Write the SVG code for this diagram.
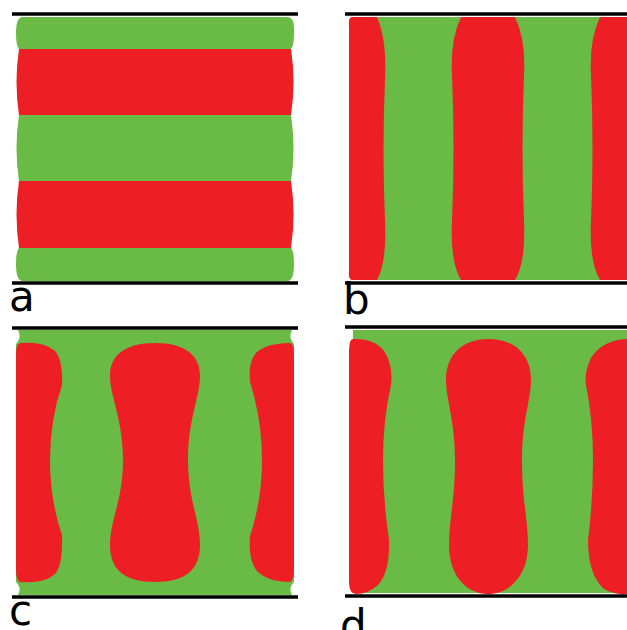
<svg xmlns="http://www.w3.org/2000/svg" width="627" height="630" viewBox="0 0 627 630">
<style>
.g{fill:#6abb46}
.r{fill:#ed1f24}
.ln{stroke:#000;stroke-width:3.5}
.lbl{font-family:"DejaVu Sans",sans-serif;font-size:42px;fill:#000}
</style>
<rect width="627" height="630" fill="#fff"/>
<g id="panel-a">
<path class="g" d="M22,17 H288 Q295,18 294,33 Q294,46 291,49 H19 Q16,46 16,33 Q16,18 22,17 Z"/>
<path class="r" d="M19,49 H291 Q296,82 291,115 H19 Q14,82 19,49 Z"/>
<path class="g" d="M19,115 H291 Q296,148 291,181 H19 Q14,148 19,115 Z"/>
<path class="r" d="M19,181 H291 Q296,214 291,248 H19 Q14,214 19,181 Z"/>
<path class="g" d="M19,248 H291 Q294,251 294,264 Q294,280 288,281 H22 Q16,280 16,264 Q16,251 19,248 Z"/>
<line class="ln" x1="12" y1="14" x2="298" y2="14"/>
<line class="ln" x1="12" y1="283" x2="298" y2="283"/>
<text class="lbl" x="9" y="311">a</text>
</g>
<g id="panel-b">
<rect class="g" x="352" y="17" width="275" height="263"/>
<path class="r" d="M352,17 H377 Q387,40 385,80 Q382,150 385,220 Q387,262 377,280 H352 Q348,280 349,270 V27 Q348,17 352,17 Z"/>
<path class="r" d="M461,17 H515 Q526,40 524,75 Q521,150 524,220 Q526,262 515,280 H461 Q450,262 452,220 Q455,150 452,75 Q450,40 461,17 Z"/>
<path class="r" d="M600,17 H627 V280 H600 Q589,262 591,220 Q594,150 591,75 Q589,40 600,17 Z"/>
<line class="ln" x1="345" y1="14" x2="627" y2="14"/>
<line class="ln" x1="345" y1="283" x2="627" y2="283"/>
<text class="lbl" x="343" y="314">b</text>
</g>
<g id="panel-c">
<path class="g" d="M18,330 H292 Q288,338 294,344 V582 Q288,588 292,595 H18 Q22,588 16,582 V344 Q22,338 18,330 Z"/>
<path class="r" d="M20,343 Q44,341 55,351 Q63,360 62,385 Q50,420 50,460 Q50,500 62,535 Q63,565 55,574 Q44,584 20,582 Q16,580 16,570 V355 Q16,344 20,343 Z"/>
<path class="r" d="M155,343 C186,343 200,356 200,376 C200,396 188,420 188,460 C188,500 200,520 200,545 C200,570 185,582 155,582 C125,582 110,570 110,545 C110,520 123,500 123,460 C123,420 110,396 110,376 C110,356 124,343 155,343 Z"/>
<path class="r" d="M290,343 Q266,343 256,353 Q248,362 250,382 Q262,420 262,460 Q262,500 250,536 Q248,560 257,571 Q268,582 290,582 Q294,580 294,570 V355 Q294,344 290,343 Z"/>
<line class="ln" x1="12" y1="328" x2="298" y2="328"/>
<line class="ln" x1="12" y1="597" x2="298" y2="597"/>
<text class="lbl" x="9" y="625">c</text>
</g>
<g id="panel-d">
<path class="g" d="M353,330 H627 V593 H353 Q350,460 353,330 Z"/>
<path class="r" d="M353,339 Q378,338 387,356 Q393,370 391,385 Q383,420 383,460 Q383,500 389,540 Q390,572 378,585 Q368,594 356,594 Q349,594 349,582 V352 Q349,339 353,339 Z"/>
<path class="r" d="M488,339 C515,339 531,355 531,380 C531,400 522,420 522,460 C522,500 528,520 528,545 C528,575 510,594 488,594 C466,594 449,575 449,545 C449,520 455,500 455,460 C455,420 446,400 446,380 C446,355 462,339 488,339 Z"/>
<path class="r" d="M627,339 Q602,340 591,358 Q584,372 586,385 Q593,420 593,460 Q593,500 588,540 Q588,575 604,589 Q614,595 627,594 Z"/>
<line class="ln" x1="345" y1="327" x2="627" y2="327"/>
<line class="ln" x1="345" y1="596" x2="627" y2="596"/>
<text class="lbl" x="340" y="640">d</text>
</g>
</svg>
